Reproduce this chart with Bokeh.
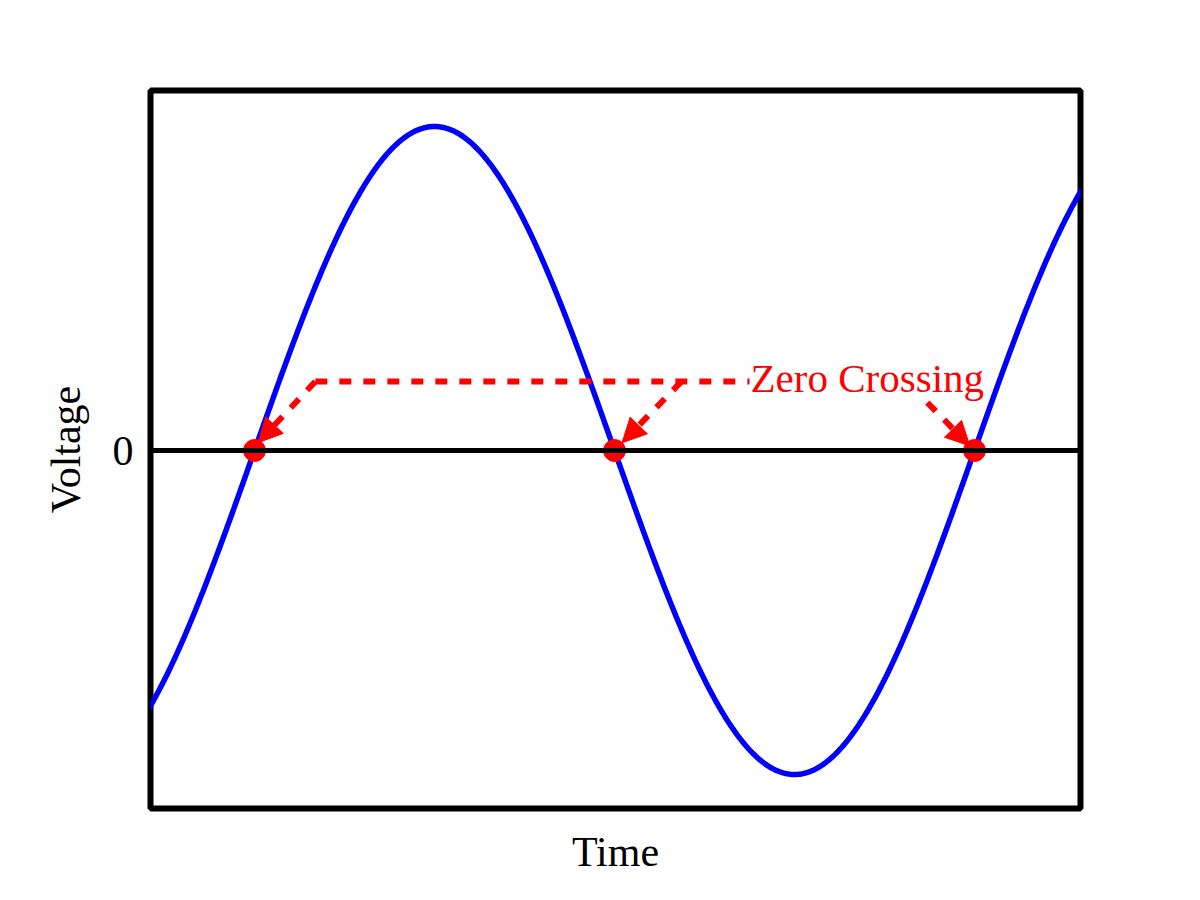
import numpy as np
from bokeh.plotting import figure
from bokeh.models import Range1d, Span, Arrow, NormalHead, FixedTicker, Label
from bokeh.embed import file_html
from bokeh.resources import INLINE

# ---- data ----
amplitude = 1.0            # peak voltage (arbitrary units)
half_period = 1.0          # time between zero crossings
crossing_times = [0.0, 1.0, 2.0]
crossing_volts = [0.0, 0.0, 0.0]
y_ticks = [0]
y_tick_labels = {0: "0"}

t = np.linspace(-0.3, 2.3, 600)
v = amplitude * np.sin(np.pi * t / half_period)

FONT = "Liberation Serif"
RED = "#ff0000"

p = figure(width=1184, height=884, output_backend="svg", toolbar_location=None,
           x_range=Range1d(-104/360, 826/360), y_range=Range1d(-358/324, 360/324),
           min_border_left=150, min_border_right=104, min_border_top=90, min_border_bottom=76)
p.grid.visible = False
p.background_fill_color = "white"
p.border_fill_color = "white"
p.outline_line_color = "black"
p.outline_line_width = 6
p.outline_line_alpha = 1

# zero line
p.add_layout(Span(location=0, dimension="width", line_color="black", line_width=5))

# sine wave
p.line(t, v, line_color="#0000ff", line_width=5.5)

# dashed connectors
dash = "12 12"
p.line([0.169, 1.375], [0.213, 0.213], line_color=RED, line_width=6, line_dash=dash)
arrows = [((0.169, 0.213), (0.010, 0.024)),
          ((1.186, 0.213), (1.021, 0.024)),
          ((1.869, 0.148), (1.987, 0.014))]
for (x0, y0), (x1, y1) in arrows:
    p.add_layout(Arrow(x_start=x0, y_start=y0, x_end=x1, y_end=y1,
                       line_color=RED, line_width=6, line_dash=dash,
                       end=NormalHead(size=24, fill_color=RED, line_color=RED, line_width=1)))

# zero-crossing points
p.scatter(crossing_times, crossing_volts, size=22, fill_color=RED, line_color=RED)

p.add_layout(Label(x=1.378, y=0.225, text="Zero Crossing", text_color=RED,
                   text_font=FONT, text_font_size="41px", text_align="left",
                   text_baseline="alphabetic"))

# axes
for ax in (p.xaxis[0], p.yaxis[0]):
    ax.axis_line_color = None
    ax.major_tick_line_color = None
    ax.minor_tick_line_color = None
    ax.major_tick_out = 0
    ax.major_tick_in = 0
    ax.axis_label_text_font = FONT
    ax.axis_label_text_font_size = "42px"
    ax.axis_label_text_font_style = "normal"
    ax.axis_label_text_color = "black"
    ax.major_label_text_font = FONT
    ax.major_label_text_font_size = "42px"
    ax.major_label_text_color = "black"

p.xaxis.ticker = FixedTicker(ticks=[])
p.xaxis.axis_label = "Time"
p.xaxis.axis_label_standoff = 20
p.yaxis.ticker = FixedTicker(ticks=y_ticks)
p.yaxis.major_label_overrides = y_tick_labels
p.yaxis.major_label_standoff = 17
p.yaxis.axis_label = "Voltage"
p.yaxis.axis_label_standoff = 21

open("out.html", "w").write(file_html(p, INLINE))
